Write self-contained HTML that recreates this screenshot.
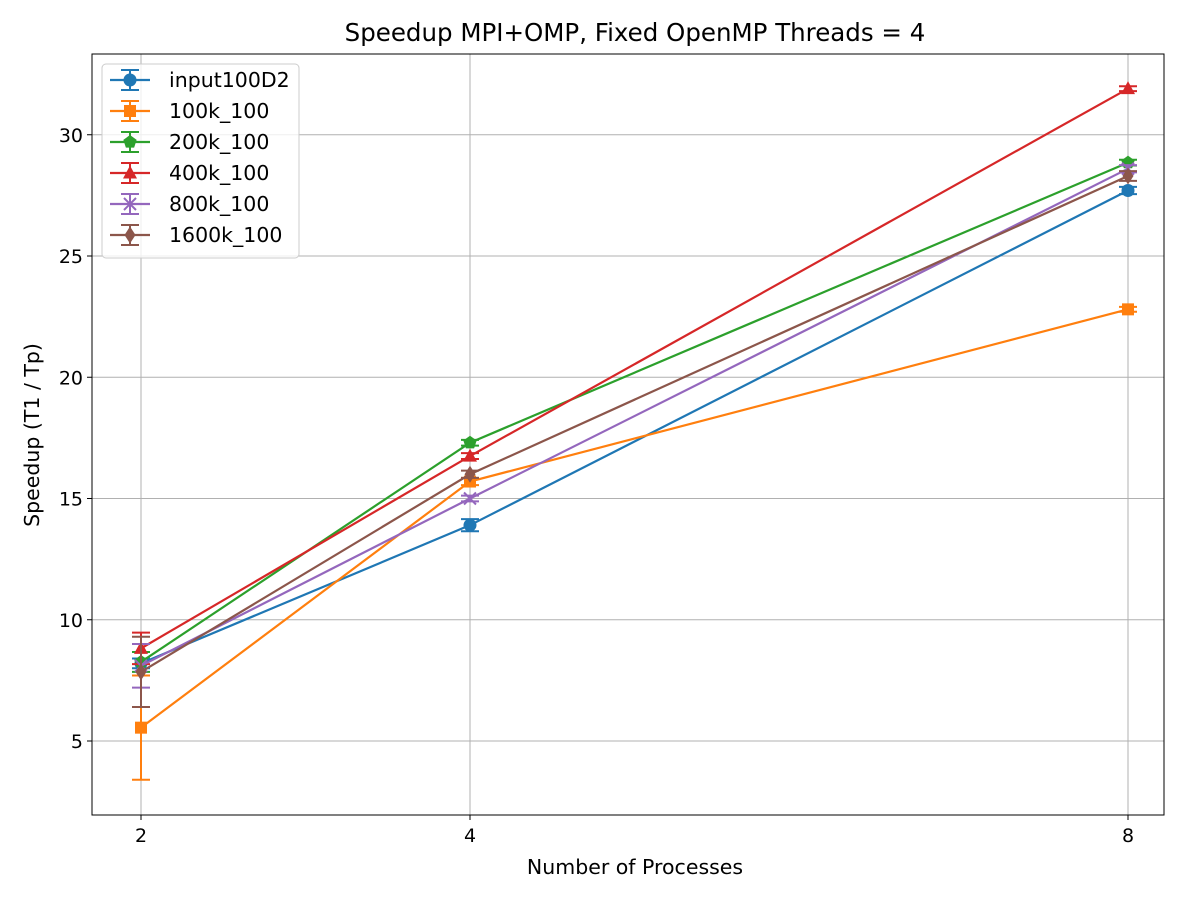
<!DOCTYPE html>
<html><head><meta charset="utf-8"><style>
body{margin:0;background:#fff;font-family:"Liberation Sans","DejaVu Sans",sans-serif}
</style></head><body>
<svg id="chart" width="1200" height="900" xmlns="http://www.w3.org/2000/svg" font-family="DejaVu Sans, Liberation Sans, sans-serif"></svg>
<script>
const categories = [2, 4, 8];
const seriesNames = ["input100D2","100k_100","200k_100","400k_100","800k_100","1600k_100"];
const sInput = [8.2, 13.9, 27.7];
const s100k = [5.55, 15.7, 22.8];
const s200k = [8.26, 17.3, 28.85];
const s400k = [8.82, 16.75, 31.9];
const s800k = [8.1, 15.0, 28.6];
const s1600k = [7.85, 16.0, 28.3];
const eInput = [0.2, 0.25, 0.15];
const e100k = [2.15, 0.15, 0.1];
const e200k = [0.41, 0.12, 0.12];
const e400k = [0.65, 0.12, 0.1];
const e800k = [0.9, 0.12, 0.15];
const e1600k = [1.45, 0.15, 0.2];
const yTicks = [5,10,15,20,25,30];
const colors = ["#1f77b4","#ff7f0e","#2ca02c","#d62728","#9467bd","#8c564b"];
const markers = ["circle","square","pentagon","triangle","x","diamond"];
const values = [sInput,s100k,s200k,s400k,s800k,s1600k];
const errs = [eInput,e100k,e200k,e400k,e800k,e1600k];

const L=92,R=1164,T=54,B=815;
const xs = v => 141 + (v-2)*164.5;
const ys = v => 741 - (v-5)*24.25;
const svg=document.getElementById('chart');
const NS="http://www.w3.org/2000/svg";
function mk(tag,attrs,parent){const e=document.createElementNS(NS,tag);for(const k in attrs)e.setAttribute(k,attrs[k]);(parent||svg).appendChild(e);return e;}

const grid=mk('g',{});


categories.forEach(c=>mk('line',{x1:xs(c),x2:xs(c),y1:T,y2:B,stroke:'#b0b0b0','stroke-width':1},grid));
yTicks.forEach(t=>mk('line',{x1:L,x2:R,y1:ys(t),y2:ys(t),stroke:'#b0b0b0','stroke-width':1},grid));

const xa=mk('g',{});


categories.forEach(c=>{mk('line',{x1:xs(c),x2:xs(c),y1:B,y2:B+5,stroke:'#000'},xa);
 const t=mk('text',{x:xs(c),y:B+27,'text-anchor':'middle','font-size':19},xa);t.textContent=c;});
const ya=mk('g',{});


yTicks.forEach(v=>{mk('line',{x1:L-5,x2:L,y1:ys(v),y2:ys(v),stroke:'#000'},ya);
 const t=mk('text',{x:L-9,y:ys(v)+7,'text-anchor':'end','font-size':19},ya);t.textContent=v;});

function marker(type,x,y,col,g,s){
 s=s||1;
 if(type==='circle')return mk('circle',{cx:x,cy:y,r:6.5*s,fill:col},g);
 if(type==='square')return mk('rect',{x:x-6*s,y:y-6*s,width:12*s,height:12*s,fill:col},g);
 if(type==='pentagon'){let p=[];for(let i=0;i<5;i++){const a=-Math.PI/2+i*2*Math.PI/5;p.push((x+7*s*Math.cos(a))+','+(y+7*s*Math.sin(a)));}return mk('polygon',{points:p.join(' '),fill:col},g);}
 if(type==='triangle')return mk('polygon',{points:`${x},${y-7.5*s} ${x-7*s},${y+5.5*s} ${x+7*s},${y+5.5*s}`,fill:col},g);
 if(type==='x')return mk('path',{d:`M${x-6*s},${y-6*s}L${x+6*s},${y+6*s}M${x-6*s},${y+6*s}L${x+6*s},${y-6*s}`,stroke:col,'stroke-width':2,fill:'none'},g);
 if(type==='diamond')return mk('polygon',{points:`${x},${y-8.5*s} ${x+5.5*s},${y} ${x},${y+8.5*s} ${x-5.5*s},${y}`,fill:col},g);
}

values.forEach((vals,si)=>{
 const g=mk('g',{});
 
 
 const col=colors[si];
 mk('polyline',{points:vals.map((v,i)=>xs(categories[i])+','+ys(v)).join(' '),fill:'none',stroke:col,'stroke-width':2.2},g);
 vals.forEach((v,i)=>{
  const x=xs(categories[i]),e=errs[si][i];
  mk('line',{x1:x,x2:x,y1:ys(v-e),y2:ys(v+e),stroke:col,'stroke-width':2},g);
  mk('line',{x1:x-9,x2:x+9,y1:ys(v-e),y2:ys(v-e),stroke:col,'stroke-width':2},g);
  mk('line',{x1:x-9,x2:x+9,y1:ys(v+e),y2:ys(v+e),stroke:col,'stroke-width':2},g);
  const m=marker(markers[si],x,ys(v),col,g);
  
  
 });
});

mk('rect',{x:L,y:T,width:R-L,height:B-T,fill:'none',stroke:'#000','stroke-width':1});

const lg=mk('g',{});


mk('rect',{x:102,y:64,width:197,height:194,rx:4,fill:'#fff','fill-opacity':0.8,stroke:'#ccc'},lg);
seriesNames.forEach((n,i)=>{
 const y=80+i*31,col=colors[i];
 const eg=mk('g',{},lg);
 
 
 mk('line',{x1:110,x2:150,y1:y,y2:y,stroke:col,'stroke-width':2.2},eg);
 mk('line',{x1:130,x2:130,y1:y-10,y2:y+10,stroke:col,'stroke-width':2},eg);
 mk('line',{x1:121,x2:139,y1:y-10,y2:y-10,stroke:col,'stroke-width':2},eg);
 mk('line',{x1:121,x2:139,y1:y+10,y2:y+10,stroke:col,'stroke-width':2},eg);
 marker(markers[i],130,y,col,eg);
 const t=mk('text',{x:169,y:y+7,'font-size':20.5},eg);t.textContent=n;
});

let t=mk('text',{x:635,y:41,'text-anchor':'middle','font-size':24.5});t.textContent='Speedup MPI+OMP, Fixed OpenMP Threads = 4';

t=mk('text',{x:635,y:874,'text-anchor':'middle','font-size':20.5});t.textContent='Number of Processes';

t=mk('text',{x:39,y:435,'text-anchor':'middle','font-size':20.5,transform:'rotate(-90 39 435)'});t.textContent='Speedup (T1 / Tp)';

</script>
</body></html>
